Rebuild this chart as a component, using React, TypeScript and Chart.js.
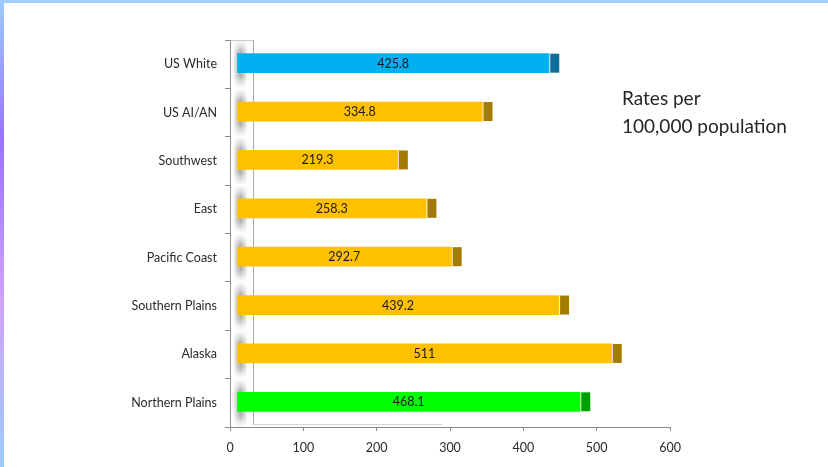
import React, { useEffect, useRef } from "react";
import { Chart, registerables } from "chart.js";

Chart.register(...registerables);

const categories = [
  "US White",
  "US AI/AN",
  "Southwest",
  "East",
  "Pacific Coast",
  "Southern Plains",
  "Alaska",
  "Northern Plains",
];
const rates = [425.8, 334.8, 219.3, 258.3, 292.7, 439.2, 511, 468.1];
const rateLabels = ["425.8", "334.8", "219.3", "258.3", "292.7", "439.2", "511", "468.1"];
const faceColors = ["#00b0f0", "#ffc000", "#ffc000", "#ffc000", "#ffc000", "#ffc000", "#ffc000", "#00ff00"];
const capColors = ["#0e6f9a", "#a37b00", "#a37b00", "#a37b00", "#a37b00", "#a37b00", "#a37b00", "#00a000"];
const xMin = 0;
const xMax = 600;
const xStep = 100;
const noteLines = ["Rates per", "100,000 population"];

const FONT = "Lato, 'Open Sans', sans-serif";
const DEPTH_X = 7;
const DEPTH_Y = -1;
const CAP_W = 9;

const decorPlugin = {
  id: "decor",
  beforeDraw(chart: any) {
    const { ctx, chartArea, scales } = chart;
    const W = chart.width;
    const H = chart.height;
    ctx.save();
    ctx.fillStyle = "#ffffff";
    ctx.fillRect(0, 0, W, H);
    // slide frame
    const lg = ctx.createLinearGradient(0, 0, 0, H);
    lg.addColorStop(0, "#9ccbff");
    lg.addColorStop(0.3, "#9a72ff");
    lg.addColorStop(0.65, "#d0a2ff");
    lg.addColorStop(1, "#9ccbff");
    ctx.fillStyle = lg;
    ctx.fillRect(0, 0, 4, H);
    ctx.fillStyle = "#a2cdff";
    ctx.fillRect(0, 0, W, 3);

    // 3D wall strip
    const y = scales.y;
    const step = Math.abs(y.getPixelForValue(1) - y.getPixelForValue(0));
    const sx0 = chartArea.left + 4;
    const sx1 = chartArea.left + 17;
    for (let i = 0; i < categories.length; i++) {
      const c = y.getPixelForValue(i);
      const t = c - step / 2;
      const g = ctx.createLinearGradient(0, t, 0, t + step);
      g.addColorStop(0, "#ffffff");
      g.addColorStop(0.1, "#e4e4e4");
      g.addColorStop(0.25, "#b0b0b0");
      g.addColorStop(0.5, "#a4a4a4");
      g.addColorStop(0.75, "#b0b0b0");
      g.addColorStop(0.9, "#e4e4e4");
      g.addColorStop(1, "#ffffff");
      ctx.fillStyle = g;
      ctx.fillRect(sx0, t, sx1 - sx0, step);
    }
    const hg = ctx.createLinearGradient(sx0, 0, sx1, 0);
    hg.addColorStop(0, "rgba(255,255,255,0.8)");
    hg.addColorStop(0.45, "rgba(255,255,255,0.05)");
    hg.addColorStop(0.55, "rgba(255,255,255,0.05)");
    hg.addColorStop(1, "rgba(255,255,255,0.8)");
    ctx.fillStyle = hg;
    ctx.fillRect(sx0, chartArea.top, sx1 - sx0, chartArea.bottom - chartArea.top);

    // back wall edges
    ctx.strokeStyle = "#a8a8a8";
    ctx.lineWidth = 1;
    const bx = chartArea.left + 23.5;
    ctx.beginPath();
    ctx.moveTo(bx, chartArea.top);
    ctx.lineTo(bx, chartArea.bottom - 2);
    ctx.stroke();
    ctx.strokeStyle = "#c8c8c8";
    ctx.beginPath();
    ctx.moveTo(chartArea.left, chartArea.top + 0.5);
    ctx.lineTo(bx, chartArea.top + 0.5);
    ctx.stroke();
    // floor edge
    ctx.strokeStyle = "#d6d6d6";
    ctx.beginPath();
    ctx.moveTo(bx, chartArea.bottom - 2.5);
    ctx.lineTo(scales.x.getPixelForValue(290), chartArea.bottom - 2.5);
    ctx.stroke();
    ctx.restore();
  },
  beforeDatasetsDraw(chart: any) {
    chart.ctx.save();
    chart.ctx.translate(DEPTH_X, DEPTH_Y);
  },
  afterDatasetsDraw(chart: any) {
    const { ctx } = chart;
    const meta = chart.getDatasetMeta(0);
    const xs = chart.scales.x;
    meta.data.forEach((bar: any, i: number) => {
      const h = bar.height;
      const top = bar.y - h / 2;
      ctx.fillStyle = "rgba(255,255,255,0.55)";
      ctx.fillRect(bar.x, top, 1, h);
      ctx.fillStyle = capColors[i];
      ctx.fillRect(bar.x + 1, top, CAP_W, h);
      // value label centred on front face
      const x0 = xs.getPixelForValue(0);
      ctx.fillStyle = "#1a1a1a";
      ctx.font = `12.5px ${FONT}`;
      ctx.textAlign = "center";
      ctx.textBaseline = "middle";
      ctx.fillText(rateLabels[i], (x0 + bar.x) / 2, bar.y + 0.5);
    });
    ctx.restore();
  },
};

export default function App() {
  const ref = useRef<HTMLCanvasElement | null>(null);
  useEffect(() => {
    if (!ref.current) return;
    const chart = new Chart(ref.current, {
      type: "bar",
      data: {
        labels: categories,
        datasets: [
          {
            data: rates,
            backgroundColor: faceColors,
            borderWidth: 0,
            barThickness: 19,
          },
        ],
      },
      options: {
        indexAxis: "y",
        responsive: false,
        maintainAspectRatio: false,
        animation: false,
        layout: { padding: { left: 0, right: 158, top: 40, bottom: 0 } },
        plugins: { legend: { display: false }, tooltip: { enabled: false } },
        scales: {
          y: {
            type: "category",
            grid: { drawOnChartArea: false, tickLength: 5, color: "#8c8c8c", offset: true },
            border: { color: "#8c8c8c" },
            ticks: { color: "#2b2b2b", font: { family: FONT, size: 12.5 }, padding: 8 },
            afterFit: (s: any) => {
              s.width = 230;
            },
          },
          x: {
            min: xMin,
            max: xMax,
            grid: { drawOnChartArea: false, tickLength: 4, color: "#8c8c8c" },
            border: { color: "#8c8c8c" },
            ticks: { stepSize: xStep, color: "#2b2b2b", font: { family: FONT, size: 12.5 }, padding: 9 },
            afterFit: (s: any) => {
              s.height = 40;
            },
          },
        },
      } as any,
      plugins: [decorPlugin],
    });
    return () => chart.destroy();
  }, []);

  return (
    <div style={{ position: "fixed", left: 0, top: 0, width: 828, height: 467, background: "#fff" }}>
      <canvas ref={ref} width={828} height={467} style={{ display: "block" }} />
      <div
        style={{
          position: "absolute",
          left: 622,
          top: 84,
          fontFamily: FONT,
          fontSize: 19,
          lineHeight: "28px",
          color: "#262626",
          whiteSpace: "nowrap",
        }}
      >
        {noteLines.map((l) => (
          <div key={l}>{l}</div>
        ))}
      </div>
    </div>
  );
}
